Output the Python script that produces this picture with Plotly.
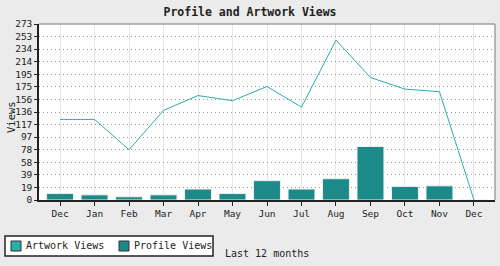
import plotly.graph_objects as go
import math

months = ["Dec", "Jan", "Feb", "Mar", "Apr", "May", "Jun", "Jul", "Aug", "Sep", "Oct", "Nov", "Dec"]
artwork_views = [125, 125, 78, 139, 162, 154, 176, 144, 248, 190, 172, 168, 0]
profile_views = [10, 8, 5, 8, 17, 10, 30, 17, 33, 83, 21, 22, 0]
series_names = ["Artwork Views", "Profile Views"]
y_max = 273
y_ticks = [i * y_max / 14 for i in range(15)]
y_ticktext = [str(math.floor(v)) for v in y_ticks]

FONT = "DejaVu Sans Mono"
LINE_C = "#2aaeab"
BAR_C = "#1d8a8a"
TXT = "#222222"
x = list(range(len(months)))

# plot area in pixels: x 39..495, y 24..200
PL, PR, PT, PB = 39, 495, 24, 200
def xd(px):
    return (px - PL) / (PR - PL)
def yd(py):
    return (PB - py) / (PB - PT)

fig = go.Figure()
fig.add_trace(go.Bar(x=x, y=profile_views, name=series_names[1],
                     marker=dict(color=BAR_C, line=dict(color="#eeeeee", width=1)),
                     width=0.78, showlegend=False))
fig.add_trace(go.Scatter(x=x, y=artwork_views, name=series_names[0], mode="lines",
                         line=dict(color=LINE_C, width=1), showlegend=False))

shapes = [
    dict(type="line", xref="x domain", yref="y domain", x0=0, x1=1, y0=1, y1=1,
         line=dict(color="#a0a0a0", width=1.5)),
    dict(type="line", xref="x domain", yref="y domain", x0=1, x1=1, y0=0, y1=1,
         line=dict(color="#a0a0a0", width=1.5)),
    # legend box
    dict(type="rect", xref="x domain", yref="y domain", x0=xd(5), x1=xd(213), y0=yd(256), y1=yd(236),
         fillcolor="white", line=dict(color=TXT, width=1.5)),
]
annotations = []
leg = [(11, LINE_C, series_names[0]), (119, BAR_C, series_names[1])]
for sx, col, name in leg:
    shapes.append(dict(type="rect", xref="x domain", yref="y domain", x0=xd(sx), x1=xd(sx + 10),
                       y0=yd(251), y1=yd(241), fillcolor=col, line=dict(color="#333333", width=1)))
    annotations.append(dict(text=name, xref="x domain", yref="y domain", x=xd(sx + 13), y=yd(246),
                            xanchor="left", yanchor="middle", showarrow=False,
                            font=dict(family=FONT, size=10, color=TXT)))
annotations.append(dict(text="Last 12 months", xref="x domain", yref="y domain", x=xd(223), y=yd(253),
                        xanchor="left", yanchor="middle", showarrow=False,
                        font=dict(family=FONT, size=10, color=TXT)))
annotations.append(dict(text="Views", xref="x domain", yref="y domain", x=xd(11), y=yd(117),
                        xanchor="center", yanchor="middle", textangle=-90, showarrow=False,
                        font=dict(family=FONT, size=10.5, color=TXT)))

fig.update_layout(
    width=500, height=266,
    margin=dict(l=PL, r=500 - PR, t=PT, b=266 - PB, autoexpand=False),
    paper_bgcolor="#ebebeb", plot_bgcolor="white",
    barmode="overlay", showlegend=False,
    font=dict(family=FONT, size=9.5, color=TXT),
    title=dict(text="<b>Profile and Artwork Views</b>", x=0.5, xanchor="center", y=1 - 12 / 266,
               yanchor="middle", font=dict(family=FONT, size=11.5, color=TXT)),
    xaxis=dict(range=[-0.61, 12.61], tickvals=x, ticktext=months, showgrid=True, gridcolor="#e6e6e6",
               griddash="solid", gridwidth=1, ticks="outside", ticklen=4, tickcolor=TXT, showline=True,
               linecolor=TXT, linewidth=1.5, zeroline=False),
    yaxis=dict(range=[0, y_max], tickvals=y_ticks, ticktext=y_ticktext, showgrid=True, gridcolor="#999999",
               griddash="1px,3px", gridwidth=1, ticks="outside", ticklen=3, tickcolor=TXT, showline=True,
               linecolor=TXT, linewidth=1.5, zeroline=False),
    shapes=shapes,
    annotations=annotations,
)
fig.write_html("out.html")
